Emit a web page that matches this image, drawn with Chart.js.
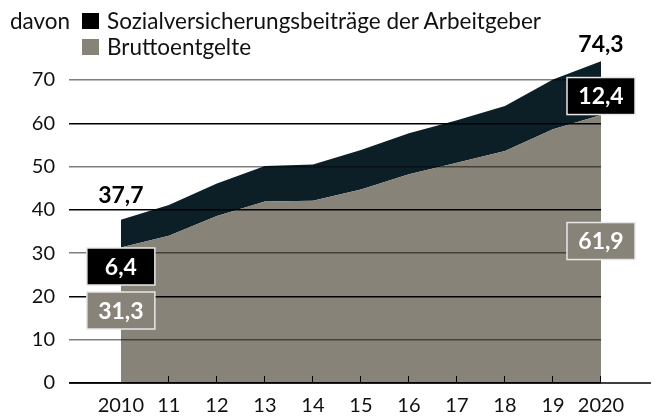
<!DOCTYPE html>
<html>
<head>
<meta charset="utf-8">
<script src="https://cdn.jsdelivr.net/npm/chart.js@4"></script>
<style>
body{margin:0;background:#fff;font-family:Lato,sans-serif;}
#wrap{position:relative;width:655px;height:419px;}
#myCanvas{position:absolute;left:0;top:0;}
.leg{position:absolute;font-size:22.5px;color:#111;line-height:24px;white-space:nowrap;}
.sq{position:absolute;width:17px;height:16px;}
</style>
</head>
<body>
<div id="wrap">
	<canvas id="myCanvas" width="655" height="419"></canvas>
	<div class="leg" style="left:10px;top:9px;">davon</div>
	<div class="sq" style="left:82px;top:13px;background:#000;"></div>
	<div class="leg" style="left:107px;top:9px;">Sozialversicherungsbeiträge der Arbeitgeber</div>
	<div class="sq" style="left:82px;top:39px;background:#878379;"></div>
	<div class="leg" style="left:107px;top:35px;">Bruttoentgelte</div>
</div>
<script>
var years=[2010,2011,2012,2013,2014,2015,2016,2017,2018,2019,2020];
var yearLabels=['2010','11','12','13','14','15','16','17','18','19','2020'];
var brutto=[31.3,34.0,38.6,41.9,42.1,44.7,48.2,50.9,53.6,58.6,61.9];
var sozial=[6.4,7.1,7.5,8.2,8.4,9.1,9.5,9.8,10.4,11.5,12.4];
var totals=[37.7,41.1,46.1,50.1,50.5,53.8,57.7,60.7,64.0,70.1,74.3];

var grayCol='#878379';
var darkCol='#0c1f27';

function fmt(v){
	return v.toFixed(1).replace('.',',');
}

function pts(arr){
	var out=[];
	for(var i in years){
		out.push({x:years[i],y:arr[i]});
	}
	return out;
}

var fontFam='Lato, sans-serif';

function box(ctx,cx,cy,txt,fill){
	var w=68,h=37;
	ctx.fillStyle=fill;
	ctx.fillRect(cx-w/2,cy-h/2,w,h);
	ctx.strokeStyle='#e8e8e8';
	ctx.lineWidth=1.5;
	ctx.strokeRect(cx-w/2,cy-h/2,w,h);
	ctx.fillStyle='#fff';
	ctx.font='bold 23px '+fontFam;
	ctx.textAlign='center';
	ctx.textBaseline='middle';
	ctx.fillText(txt,cx,cy+1);
}

var extras={
	id:'extras',
	afterDraw:function(chart){
		var ctx=chart.ctx;
		var xs=chart.scales.x, ys=chart.scales.y;
		var y0=ys.getPixelForValue(0);
		ctx.save();
		//baseline runs past the last year
		ctx.strokeStyle='#000';
		ctx.lineWidth=1.5;
		ctx.beginPath();
		ctx.moveTo(chart.chartArea.left,y0);
		ctx.lineTo(651,y0);
		ctx.stroke();
		ctx.lineWidth=1;
		for(var i=1;i<years.length;i++){
			var px=Math.round(xs.getPixelForValue(years[i]))-0.5;
			ctx.beginPath();
			ctx.moveTo(px,y0);
			ctx.lineTo(px,y0-7);
			ctx.stroke();
		}
		var n=years.length-1;
		var xa=xs.getPixelForValue(years[0]);
		var xb=xs.getPixelForValue(years[n]);
		ctx.fillStyle='#000';
		ctx.font='bold 23px '+fontFam;
		ctx.textAlign='center';
		ctx.textBaseline='middle';
		ctx.fillText(fmt(totals[0]),xa,ys.getPixelForValue(totals[0])-24);
		ctx.fillText(fmt(totals[n]),xb,ys.getPixelForValue(totals[n])-17);
		var ga=ys.getPixelForValue(brutto[0]);
		box(ctx,xa,ga+19,fmt(sozial[0]),'#000');
		box(ctx,xa,ga+63,fmt(brutto[0]),grayCol);
		var gb=ys.getPixelForValue(brutto[n]);
		box(ctx,xb,gb-19,fmt(sozial[n]),'#000');
		box(ctx,xb,gb+126,fmt(brutto[n]),grayCol);
		ctx.restore();
	}
};

var ctx=document.getElementById('myCanvas');
var chart=new Chart(ctx,{
	type:'line',
	data:{
		datasets:[
			{
				label:'Bruttoentgelte',
				data:pts(brutto),
				backgroundColor:grayCol,
				borderWidth:0,
				pointRadius:0,
				fill:'origin'
			},
			{
				label:'Sozialversicherungsbeiträge der Arbeitgeber',
				data:pts(sozial),
				backgroundColor:darkCol,
				borderWidth:0,
				pointRadius:0,
				fill:'-1'
			}
		]
	},
	options:{
		responsive:false,
		animation:false,
		layout:{padding:{top:45,right:54,bottom:0,left:0}},
		plugins:{legend:{display:false},tooltip:{enabled:false}},
		elements:{line:{tension:0}},
		scales:{
			x:{
				type:'linear',
				min:2008.92,
				max:2020,
				grid:{display:false,drawTicks:false},
				border:{display:false},
				afterBuildTicks:function(s){
					s.ticks=years.map(function(y){return {value:y};});
				},
				afterFit:function(s){s.height=36;},
				ticks:{
					autoSkip:false,
					maxRotation:0,
					padding:11,
					color:'#111',
					font:{family:fontFam,size:20},
					callback:function(v){
						var i=years.indexOf(v);
						return i>=0?yearLabels[i]:'';
					}
				}
			},
			y:{
				stacked:true,
				min:0,
				max:78.08,
				grid:{
					z:1,
					drawTicks:false,
					lineWidth:1.5,
					color:function(c){
						return (c.tick && c.tick.value%20===0)?'#000':'rgba(0,0,0,0.5)';
					}
				},
				border:{display:false},
				afterBuildTicks:function(s){
					s.ticks=s.ticks.filter(function(t){return t.value<=70;});
				},
				afterFit:function(s){s.width=69;},
				ticks:{
					stepSize:10,
					padding:14,
					color:'#111',
					font:{family:fontFam,size:20}
				}
			}
		}
	},
	plugins:[extras]
});
</script>
</body>
</html>
